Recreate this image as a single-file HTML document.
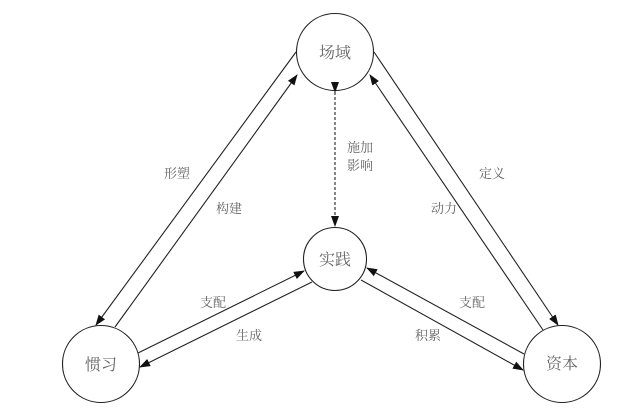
<!DOCTYPE html>
<html><head><meta charset="utf-8"><style>
html,body{margin:0;padding:0;background:#fff;}
svg{display:block;}
text{font-family:"Liberation Serif","Noto Serif CJK SC","Noto Sans CJK SC",serif;fill:#666;}
</style></head><body>
<svg width="622" height="417" viewBox="0 0 622 417" xmlns="http://www.w3.org/2000/svg">
<defs>
<marker id="a" markerWidth="11" markerHeight="8" refX="10" refY="4" orient="auto" markerUnits="userSpaceOnUse">
<path d="M0,0 L11,4 L0,8 Z" fill="#111"/></marker>
</defs>
<g fill="none" stroke="#222" stroke-width="1.1">
<circle cx="335" cy="52" r="38.5"/>
<circle cx="335" cy="259" r="31.5"/>
<circle cx="101" cy="364" r="38.5"/>
<circle cx="562" cy="364" r="38.5"/>
<line x1="296" y1="52" x2="96" y2="325" marker-end="url(#a)"/>
<line x1="115" y1="327" x2="297" y2="75" marker-end="url(#a)"/>
<line x1="543" y1="330" x2="370" y2="75" marker-end="url(#a)"/>
<line x1="374" y1="52" x2="558" y2="325" marker-end="url(#a)"/>
<line x1="335" y1="92" x2="335" y2="226" stroke-dasharray="3,2" marker-start="url(#a)" marker-end="url(#a)"/>
<line x1="138" y1="353" x2="304" y2="271" marker-end="url(#a)"/>
<line x1="312" y1="282" x2="140" y2="367" marker-end="url(#a)"/>
<line x1="524" y1="354" x2="367" y2="268" marker-end="url(#a)"/>
<line x1="361" y1="280" x2="523" y2="370" marker-end="url(#a)"/>
</g>
<g font-size="16" text-anchor="middle">
<text x="335" y="58">场域</text>
<text x="335" y="265">实践</text>
<text x="101" y="370">惯习</text>
<text x="562" y="369">资本</text>
</g>
<g font-size="13" text-anchor="middle">
<text x="177" y="178">形塑</text>
<text x="229" y="213">构建</text>
<text x="360" y="152">施加</text>
<text x="360" y="170">影响</text>
<text x="492" y="178">定义</text>
<text x="444" y="213">动力</text>
<text x="213" y="307">支配</text>
<text x="249" y="340">生成</text>
<text x="472" y="307">支配</text>
<text x="428" y="340">积累</text>
</g>
</svg>
</body></html>
